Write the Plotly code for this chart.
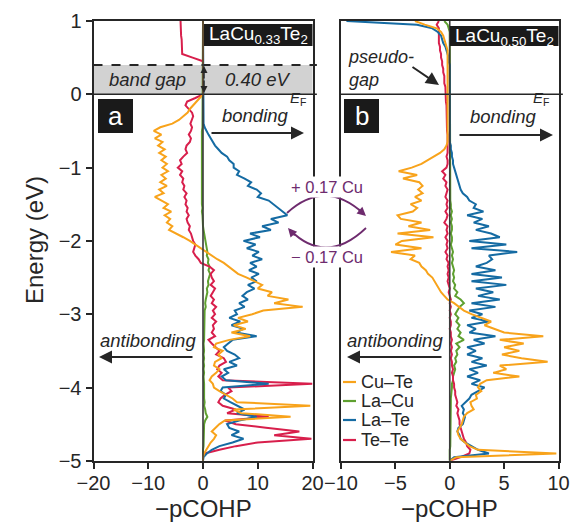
import plotly.graph_objects as go

W, H = 570, 523

energy = [
    1.00, 0.95, 0.90, 0.85, 0.80, 0.75, 0.70, 0.65, 0.60, 0.55,
    0.50, 0.45, 0.40, 0.35, 0.30, 0.25, 0.20, 0.15, 0.10, 0.05,
    0.00, -0.05, -0.10, -0.15, -0.20, -0.25, -0.30, -0.35, -0.40, -0.45,
    -0.50, -0.55, -0.60, -0.65, -0.70, -0.75, -0.80, -0.85, -0.90, -0.95,
    -1.00, -1.05, -1.10, -1.15, -1.20, -1.25, -1.30, -1.35, -1.40, -1.45,
    -1.50, -1.55, -1.60, -1.65, -1.70, -1.75, -1.80, -1.85, -1.90, -1.95,
    -2.00, -2.05, -2.10, -2.15, -2.20, -2.25, -2.30, -2.35, -2.40, -2.45,
    -2.50, -2.55, -2.60, -2.65, -2.70, -2.75, -2.80, -2.85, -2.90, -2.95,
    -3.00, -3.05, -3.10, -3.15, -3.20, -3.25, -3.30, -3.35, -3.40, -3.45,
    -3.50, -3.55, -3.60, -3.65, -3.70, -3.75, -3.80, -3.85, -3.90, -3.95,
    -4.00, -4.05, -4.10, -4.15, -4.20, -4.25, -4.30, -4.35, -4.40, -4.45,
    -4.50, -4.55, -4.60, -4.65, -4.70, -4.75, -4.80, -4.85, -4.90, -4.95,
    -5.00,
]

# ---- panel a: LaCu0.33Te2 ----
a_cu_te = [
    0, 0, 0, 0, 0, 0, 0, 0, 0, 0,
    0, 0, 0, 0, 0, 0, 0, 0, 0, 0,
    0, -0.6, -1.2, -1.8, -2.4, -2.8, -3.6, -4.4, -5.6, -7.8,
    -9.0, -7.6, -8.8, -7.4, -8.2, -7.0, -8.0, -6.8, -7.6, -6.6,
    -7.4, -6.4, -7.6, -6.8, -7.8, -6.6, -8.0, -7.2, -8.8, -7.6,
    -6.4, -7.2, -5.8, -7.0, -6.0, -6.6, -5.6, -6.2, -4.8, -3.6,
    -2.4, -1.4, -0.4, 0.6, 1.4, 2.6, 3.8, 4.6, 5.6, 6.4,
    8.0, 9.4, 10.8, 10.0, 12.6, 11.8, 15.6, 13.0, 18.2, 11.0,
    9.0, 6.4, 8.2, 5.6, 7.8, 5.2, 8.6, 4.8, 2.4, 2.0,
    3.6, 2.8, 3.4, 2.2, 2.0, 3.0, 2.4, 1.6, 1.2, 1.8,
    2.0, 3.0, 4.2, 5.4, 6.2, 19.6, 5.6, 7.0, 16.0, 4.0,
    3.0, 2.2, 1.6, 2.4, 2.0, 1.4, 1.0, 0.6, 0.2, 0,
    0,
]
a_la_cu = [
    0, 0, 0, 0, 0, 0, 0, 0, 0, 0,
    0, 0, 0, 0, 0, 0, 0, 0, 0, 0,
    0, 0, 0, 0, 0, 0, 0, 0, -0.1, -0.1,
    -0.2, -0.2, -0.3, -0.2, -0.3, -0.2, -0.3, -0.2, -0.3, -0.2,
    -0.3, -0.2, -0.3, -0.2, -0.3, -0.2, -0.3, -0.2, -0.2, -0.2,
    -0.2, -0.1, -0.2, -0.1, -0.1, -0.1, 0, 0.1, 0.2, 0.3,
    0.4, 0.5, 0.6, 0.8, 0.7, 1.0, 0.9, 1.2, 1.0, 1.3,
    1.1, 0.9, 1.0, 0.7, 0.8, 0.6, 0.5, 0.4, 0.5, 0.3,
    0.3, 0.2, 0.3, 0.2, 0.2, 0.3, 0.2, 0.2, 0.1, 0.2,
    0.2, 0.1, 0.2, 0.1, 0.2, 0.1, 0.2, 0.1, 0.2, 0.2,
    0.2, 0.2, 0.1, 0.2, 0.3, 0.2, 0.4, 0.5, 0.8, 0.4,
    0.2, 0.2, 0.1, 0.2, 0.1, 0.1, 0.1, 0, 0, 0,
    0,
]
a_la_te = [
    0, 0, 0, 0, 0, 0, 0, 0, 0, 0,
    0, 0, 0, 0, 0, 0, 0, 0, 0, 0,
    0, 0, 0, 0, 0, 0, 0, 0, 0.1, 0.3,
    0.6, 1.0, 1.4, 1.8, 2.2, 2.8, 3.4, 4.4, 4.8, 5.6,
    5.6, 6.6, 6.2, 7.6, 8.8, 8.2, 9.8, 10.6, 10.0, 12.0,
    12.8, 13.6, 14.6, 15.4, 12.4, 13.8, 10.8, 12.4, 8.6, 10.4,
    7.4, 9.6, 8.0, 10.2, 9.0, 10.8, 8.6, 9.8, 8.4, 10.2,
    8.8, 9.8, 8.2, 9.4, 8.0, 7.2, 8.2, 6.6, 7.6, 5.8,
    6.2, 4.8, 6.8, 5.2, 7.4, 6.0, 9.8, 5.4, 4.6, 3.8,
    4.4, 5.8, 6.6, 4.8, 6.2, 3.8, 4.6, 3.4, 4.2, 12.0,
    3.6, 3.2, 4.2, 3.8, 5.0, 6.4, 7.6, 6.2, 9.8, 6.6,
    4.4, 4.8, 6.6, 5.2, 7.4, 5.4, 3.0, 1.6, 0.7, 0.1,
    0,
]
a_te_te = [
    -4.1, -4.1, -4.0, -4.0, -4.0, -3.9, -3.9, -3.9, -3.9, -3.8,
    -1.9, 0, 0, 0, 0, 0, 0, 0, 0, 0,
    0, -1.4, -2.9, -3.2, -2.6, -2.0, -1.8, -2.0, -2.3, -2.0,
    -2.2, -2.6, -2.2, -2.4, -3.0, -3.2, -2.9, -3.6, -4.2, -3.9,
    -4.6, -3.8, -4.2, -3.6, -3.8, -3.4, -3.6, -3.0, -3.4, -3.0,
    -3.2, -2.8, -3.0, -2.6, -3.0, -2.8, -2.4, -2.6, -2.2, -2.0,
    -1.8, -1.4, -1.6, -1.8, -1.4, -0.8, -0.4, 1.2, 2.0, 1.4,
    1.6, 2.0, 1.4, 2.2, 1.8, 1.4, 2.0, 1.6, 2.4, 1.8,
    2.2, 1.6, 2.4, 1.8, 2.0, 1.6, 2.2, 1.0, 1.6, 2.4,
    3.0, 2.4, 3.8, 4.2, 3.0, 2.6, 3.4, 2.8, 3.6, 20.0,
    4.6, 5.2, 4.0, 3.2, 2.8, 3.6, 6.0, 4.4, 12.0, 4.0,
    6.0, 11.5, 17.6, 13.0, 19.8, 10.0, 6.0, 3.0, 0.3, 0,
    0,
]

# ---- panel b: LaCu0.50Te2 ----
b_cu_te = [
    -3.2, -2.3, -1.2, -0.8, -0.6, -0.5, -0.4, -0.3, -0.2, -0.2,
    -0.2, -0.2, -0.2, -0.2, -0.2, -0.2, -0.2, -0.2, -0.2, -0.2,
    -0.2, -0.2, -0.2, -0.2, -0.2, -0.2, -0.2, -0.2, -0.2, -0.2,
    -0.2, -0.2, -0.2, -0.2, -0.3, -0.5, -0.9, -1.5, -2.0, -2.6,
    -3.5, -4.7, -3.0, -4.3, -2.8, -2.5, -2.9, -2.5, -3.2, -2.6,
    -3.6, -3.0, -3.4, -4.8, -4.5, -2.6, -3.8, -1.8, -4.8, -1.5,
    -4.4, -5.0, -2.6, -5.4, -3.2, -3.6, -2.8, -2.6, -2.2, -2.0,
    -1.6, -1.4, -1.2, -1.0, -0.8, -0.5, -0.2, 0.4, 0.8, 1.3,
    2.0, 3.0, 3.8, 3.2, 4.2, 5.0, 8.6, 4.6, 6.8, 5.0,
    6.4, 4.8, 6.6, 9.0, 4.6, 5.2, 4.0, 6.4, 3.4, 2.8,
    2.6, 2.9, 2.4, 2.5, 1.9, 2.0, 2.2, 1.6, 1.3, 1.2,
    1.1, 0.9, 0.7, 0.8, 1.0, 1.4, 1.8, 2.6, 9.8, 0.6,
    0,
]
b_la_cu = [
    -0.5, -0.2, -0.1, 0, 0, 0, 0, 0, 0, 0,
    0, 0, 0, 0, 0, 0, 0, 0, 0, 0,
    0, 0, 0, 0, 0, 0, 0, 0, 0, 0,
    0, 0, 0, 0, 0, 0, 0, 0, 0, 0,
    0, 0, 0, 0, 0, 0, 0, 0, 0, 0.05,
    0.1, 0.1, 0.2, 0.1, 0.2, 0.1, 0.2, 0.2, 0.1, 0.2,
    0.2, 0.1, 0.2, 0.3, 0.2, 0.3, 0.2, 0.3, 0.4, 0.3,
    0.4, 0.3, 0.5, 0.4, 0.7, 0.5, 1.0, 1.3, 0.9, 0.7,
    0.5, 0.8, 0.6, 0.9, 0.7, 1.0, 0.8, 1.3, 0.6, 0.9,
    0.6, 0.7, 0.5, 0.6, 0.4, 0.5, 0.4, 0.3, 0.3, 0.2,
    0.2, 0.15, 0.1, 0.1, 0.1, 0.1, 0.1, 0.1, 0.1, 0.1,
    0.1, 0.1, 0.1, 0.1, 0.1, 0.05, 0.05, 0, 0, 0,
    0,
]
b_la_te = [
    -9.5, -3.0, -1.6, -1.1, -0.8, -0.7, -0.6, -0.4, -0.3, -0.2,
    -0.1, -0.1, 0, 0, 0, 0, 0, 0, 0, 0,
    0, 0, 0, 0, 0, 0, 0, 0, 0, 0,
    0, 0, 0, 0, 0.1, 0.1, 0.2, 0.2, 0.3, 0.3,
    0.4, 0.5, 0.6, 0.7, 0.8, 0.9, 1.0, 1.2, 1.6, 1.8,
    2.4, 2.2, 3.1, 1.6, 3.0, 2.2, 3.6, 2.4, 3.8, 4.6,
    1.8, 5.2, 2.0, 6.2, 3.6, 3.9, 3.4, 2.4, 4.2, 2.0,
    4.8, 2.0, 5.2, 2.4, 4.0, 2.6, 4.6, 2.0, 4.2, 1.8,
    3.0, 2.0, 3.6, 1.6, 2.4, 1.8, 4.2, 2.2, 3.2, 1.6,
    2.4, 1.6, 3.0, 2.0, 3.4, 1.8, 2.6, 1.6, 2.8, 2.0,
    3.2, 2.6, 2.0, 1.8, 1.4, 1.1, 1.3, 1.2, 1.4, 1.3,
    1.2, 0.8, 0.7, 0.9, 1.0, 1.4, 2.0, 2.6, 3.6, 0.4,
    0,
]
b_te_te = [
    -1.0, -1.2, -1.0, -1.0, -1.0, -1.0, -1.0, -0.9, -0.9, -0.8,
    -0.8, -0.7, -0.7, -0.6, -0.6, -0.5, -0.5, -0.5, -0.4, -0.4,
    -0.4, -0.4, -0.35, -0.3, -0.3, -0.3, -0.3, -0.3, -0.25, -0.25,
    -0.25, -0.2, -0.2, -0.2, -0.2, -0.2, -0.2, -0.3, -0.2, -0.2,
    -0.3, -0.7, -0.4, -0.6, -0.3, -0.4, -0.2, -0.3, -0.4, -0.2,
    -0.3, -0.2, -0.4, -0.2, -0.3, -0.5, -0.2, -0.3, -0.2, -0.4,
    -0.2, -0.3, -0.2, -0.4, -0.2, -0.3, -0.1, -0.2, -0.1, -0.2,
    -0.1, -0.2, -0.1, 0, -0.1, 0, 0.1, 0, 0.1, 0,
    0.1, 0, 0.1, 0.1, 0, 0.1, 0.1, 0.2, 0.1, 0.2,
    0.1, 0.2, 0.1, 0.2, 0.2, 0.3, 0.2, 0.3, 0.3, 0.4,
    0.4, 0.5, 0.5, 0.6, 0.7, 0.6, 0.8, 0.7, 0.8, 0.9,
    0.9, 1.0, 1.1, 1.2, 1.3, 1.5, 1.6, 1.9, 1.8, 1.0,
    0,
]

series_names = ["Cu–Te", "La–Cu", "La–Te", "Te–Te"]
series_colors = ["#F8A31B", "#5FA030", "#156BA3", "#D81F4C"]
xticks_a = [-20, -10, 0, 10, 20]
xticks_b = [-10, -5, 0, 5, 10]
yticks = [1, 0, -1, -2, -3, -4, -5]
gap_ev = 0.40

FONT = "Arial, Liberation Sans, sans-serif"
INK = "#262626"
PURPLE = "#6E2B6E"


def px(x):
    return x / W


def py(y):
    return 1 - y / H


data_a = dict(zip(series_names, [a_cu_te, a_la_cu, a_la_te, a_te_te]))
data_b = dict(zip(series_names, [b_cu_te, b_la_cu, b_la_te, b_te_te]))
color_of = dict(zip(series_names, series_colors))

fig = go.Figure()
draw_order = ["La–Cu", "Te–Te", "La–Te", "Cu–Te"]
for name in draw_order:
    fig.add_trace(go.Scatter(x=data_a[name], y=energy, mode="lines", name=name,
                             line=dict(color=color_of[name], width=2.0),
                             xaxis="x", yaxis="y", showlegend=False))
    fig.add_trace(go.Scatter(x=data_b[name], y=energy, mode="lines", name=name,
                             line=dict(color=color_of[name], width=2.0),
                             xaxis="x2", yaxis="y2", showlegend=False))

ydom = [1 - 460.8 / H, 1 - 21 / H]
axis_common = dict(showline=True, mirror=True, linecolor=INK, linewidth=2,
                   showgrid=False, zeroline=False, ticks="outside", ticklen=6,
                   tickwidth=1.6, tickcolor=INK, automargin=False,
                   tickfont=dict(family=FONT, size=20, color=INK))

fig.update_layout(
    width=W, height=H, margin=dict(l=0, r=0, t=0, b=0, autoexpand=False),
    paper_bgcolor="white", plot_bgcolor="white", showlegend=False,
    font=dict(family=FONT, color=INK),
    xaxis=dict(domain=[93.5 / W, 312.5 / W], range=[-20, 20], tickvals=xticks_a,
               anchor="y", ticklabelstandoff=-3, **axis_common),
    yaxis=dict(domain=ydom, range=[-5, 1], tickvals=yticks, anchor="x", **axis_common),
    xaxis2=dict(domain=[341 / W, 558.5 / W], range=[-10, 10], tickvals=xticks_b,
                anchor="y2", ticklabelstandoff=-3, **axis_common),
    yaxis2=dict(domain=ydom, range=[-5, 1], anchor="x2",
                **{**axis_common, "ticks": "", "showticklabels": False}),
)

shapes = []
# band gap band (panel a)
shapes.append(dict(type="rect", xref="x domain", yref="y", x0=0, x1=1, y0=0, y1=gap_ev,
                   fillcolor="#d2d2d2", line=dict(width=0), layer="below"))
shapes.append(dict(type="line", xref="x domain", yref="y", x0=0, x1=1.02, y0=gap_ev, y1=gap_ev,
                   line=dict(color=INK, width=2, dash="dash")))
# Fermi level lines
for xr, yr in (("x domain", "y"), ("x2 domain", "y2")):
    shapes.append(dict(type="line", xref=xr, yref=yr, x0=0, x1=1.02, y0=0, y1=0,
                       line=dict(color=INK, width=1.6)))
# vertical zero lines
for xr, yr in (("x", "y domain"), ("x2", "y2 domain")):
    shapes.append(dict(type="line", xref=xr, yref=yr, x0=0, x1=0, y0=0, y1=1,
                       line=dict(color="#3a3a3a", width=1.6)))
# black label boxes
for (x0, x1, y0, y1) in ((204, 312.5, 24, 46), (450, 558.5, 26, 46),
                         (98, 133, 99, 133), (344, 379, 99, 133)):
    shapes.append(dict(type="rect", xref="paper", yref="paper",
                       x0=px(x0), x1=px(x1), y0=py(y1), y1=py(y0),
                       fillcolor="#1a1a1a", line=dict(width=0)))
# curved purple arrows
shapes.append(dict(type="path", xref="paper", yref="paper",
                   path=f"M {px(287)},{py(213)} Q {px(325)},{py(178)} {px(364)},{py(214)}",
                   line=dict(color=PURPLE, width=1.8)))
shapes.append(dict(type="path", xref="paper", yref="paper",
                   path=f"M {px(366)},{py(228)} Q {px(326)},{py(266)} {px(290)},{py(230)}",
                   line=dict(color=PURPLE, width=1.8)))
# legend lines
leg_y = [382, 401, 420, 440]
for name, yy in zip(series_names, leg_y):
    shapes.append(dict(type="line", xref="paper", yref="paper",
                       x0=px(343), x1=px(356), y0=py(yy), y1=py(yy),
                       line=dict(color=color_of[name], width=2.2)))
fig.update_layout(shapes=shapes)

ann = []


def text(x, y, s, size=18, color=INK, xanchor="center", **kw):
    ann.append(dict(x=px(x), y=py(y), xref="paper", yref="paper", text=s,
                    showarrow=False, xanchor=xanchor, yanchor="middle",
                    font=dict(family=FONT, size=size, color=color), **kw))


def arrow(xh, yh, xt, yt, color=INK, width=2, size=1.3, head=2):
    ann.append(dict(x=px(xh), y=py(yh), xref="paper", yref="paper", text="",
                    showarrow=True, ax=xt - xh, ay=yt - yh, axref="pixel", ayref="pixel",
                    arrowhead=head, arrowsize=size, arrowwidth=width, arrowcolor=color,
                    standoff=0, startstandoff=0))


# labels
text(258, 35.5, "LaCu<sub>0.33</sub>Te<sub>2</sub>", size=19, color="white")
text(504, 36.5, "LaCu<sub>0.50</sub>Te<sub>2</sub>", size=19, color="white")
text(115.5, 116, "a", size=26, color="white")
text(361.5, 116, "b", size=26, color="white")
# band gap
text(147, 80, "<i>band gap</i>", size=18.5)
text(257, 80, "<i>0.40 eV</i>", size=18.5)
arrow(204, 66, 204, 80, width=1.4, size=1.0)
arrow(204, 93, 204, 79, width=1.4, size=1.0)
# E_F
text(298, 99, "<i>E</i><sub>F</sub>", size=15)
text(541, 99, "<i>E</i><sub>F</sub>", size=15)
# bonding / antibonding
text(255, 115, "<i>bonding</i>", size=18.5)
arrow(304, 133, 210, 133)
text(148, 340, "<i>antibonding</i>", size=18.5)
arrow(99, 357, 194, 357)
text(503, 116, "<i>bonding</i>", size=18.5)
arrow(553, 135, 458, 135)
text(395, 340, "<i>antibonding</i>", size=18.5)
arrow(347, 357, 443, 357)
# pseudo-gap
text(346, 69, "<i>pseudo-</i><br><i>gap</i>", size=18, xanchor="left", align="left")
arrow(439, 85, 411, 66)
# Cu transfer
text(327, 187, "+ 0.17 Cu", size=16.5, color=PURPLE, bgcolor="white")
text(327, 257, "− 0.17 Cu", size=16.5, color=PURPLE, bgcolor="white")
arrow(366, 216, 357, 208, color=PURPLE, width=1.6, size=1.1)
arrow(288, 228, 296, 237, color=PURPLE, width=1.6, size=1.1)
# axis titles
ann.append(dict(x=px(35), y=py(240), xref="paper", yref="paper", text="Energy (eV)",
                showarrow=False, textangle=-90, xanchor="center", yanchor="middle",
                font=dict(family=FONT, size=24, color=INK)))
text(203, 508, "−pCOHP", size=24)
text(449.5, 508, "−pCOHP", size=24)
# legend texts
for name, yy in zip(series_names, leg_y):
    text(360, yy, name, size=18, xanchor="left", borderpad=0)

fig.update_layout(annotations=ann)
fig.write_html("out.html")
